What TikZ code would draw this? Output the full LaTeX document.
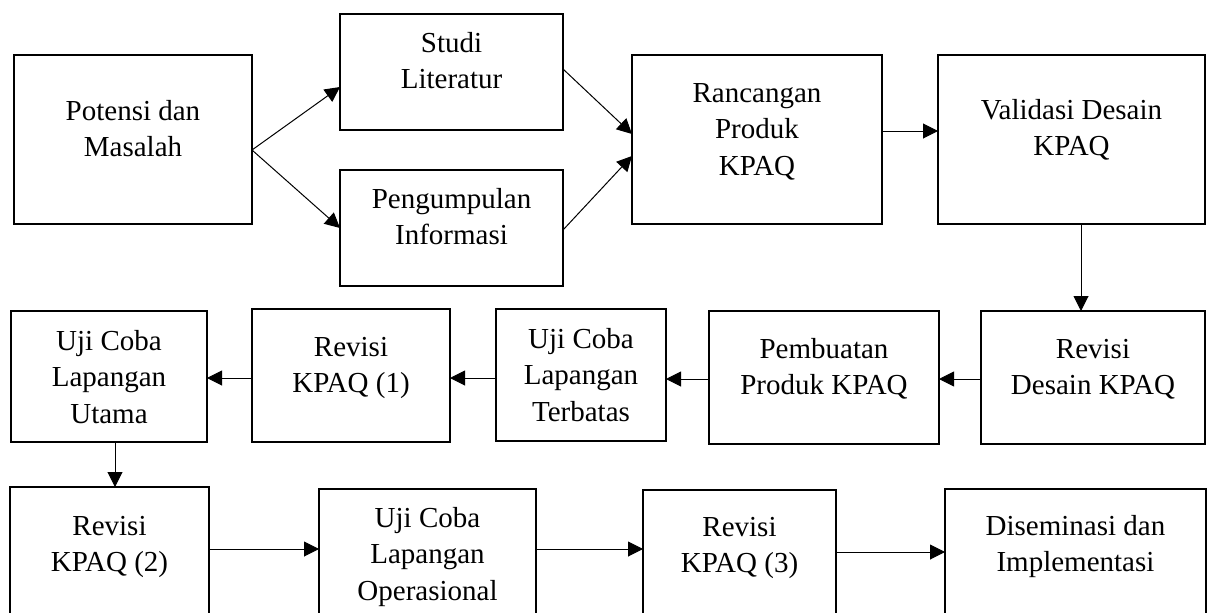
\documentclass[tikz,border=0pt]{standalone}
\usepackage{fontspec}
\setmainfont{Liberation Serif}
\usetikzlibrary{arrows.meta}
\tikzset{
  flowbox/.style={draw=black, line width=2.6pt, inner sep=0pt, outer sep=0pt, rectangle,
    font=\fontsize{29pt}{36.5pt}\selectfont},
  arr/.style={line width=1pt, -{Triangle[length=15pt,width=15pt]}}
}
% #1 name, #2 x, #3 y (top-left), #4 width, #5 height, #6 first baseline offset, #7 text
\newcommand\flowbox[7]{%
  \node[flowbox, anchor=north west, minimum width=#4pt, minimum height=#5pt] (#1) at (#2,#3)
  {\parbox[c][#5pt][t]{#4pt}{\centering\vspace*{\dimexpr#6pt-25pt\relax}\rule{0pt}{25pt}#7}};}
\begin{document}
\begin{tikzpicture}[x=1pt, y=-1pt]
\useasboundingbox (0,0) rectangle (1208,613);
\fill[white] (0,0) rectangle (1208,613);
\clip (0,0) rectangle (1208,613);
% row 1
\flowbox{A}{14}{55}{238}{169}{65}{Potensi dan\\Masalah}
\flowbox{B}{340}{14}{223}{116}{38}{Studi\\Literatur}
\flowbox{C}{340}{170}{223}{116}{38}{Pengumpulan\\Informasi}
\flowbox{D}{632}{55}{250}{169}{47}{Rancangan\\Produk\\KPAQ}
\flowbox{E}{938}{55}{267}{169}{64}{Validasi Desain\\KPAQ}
% row 2
\flowbox{F}{981}{311}{224}{133}{47}{Revisi\\Desain KPAQ}
\flowbox{G}{709}{311}{230}{133}{47}{Pembuatan\\Produk KPAQ}
\flowbox{H}{496}{309}{170}{132}{39}{Uji Coba\\Lapangan\\Terbatas}
\flowbox{I}{252}{309}{198}{133}{47}{Revisi\\KPAQ (1)}
\flowbox{J}{11}{311}{196}{131}{39}{Uji Coba\\Lapangan\\Utama}
% row 3
\flowbox{K}{10}{487}{199}{160}{48}{Revisi\\KPAQ (2)}
\flowbox{L}{319}{489}{217}{160}{38}{Uji Coba\\Lapangan\\Operasional}
\flowbox{M}{643}{490}{193}{160}{46}{Revisi\\KPAQ (3)}
\flowbox{N}{945}{489}{261}{160}{46}{Diseminasi dan\\Implementasi}
% connectors
\draw[arr] ([yshift=-95pt]A.north east) -- ([yshift=-73pt]B.north west);
\draw[arr] ([yshift=-95pt]A.north east) -- ([yshift=-58pt]C.north west);
\draw[arr] ([yshift=-55pt]B.north east) -- ([yshift=-79pt]D.north west);
\draw[arr] ([yshift=-60pt]C.north east) -- ([yshift=-101pt]D.north west);
\draw[arr] ([yshift=-76pt]D.north east) -- ([yshift=-76pt]E.north west);
\draw[arr] ([xshift=143pt]E.south west) -- ([xshift=100pt]F.north west);
\draw[arr] ([yshift=-68pt]F.north west) -- ([yshift=-68pt]G.north east);
\draw[arr] ([yshift=-68pt]G.north west) -- ([yshift=-70pt]H.north east);
\draw[arr] ([yshift=-69pt]H.north west) -- ([yshift=-69pt]I.north east);
\draw[arr] ([yshift=-69pt]I.north west) -- ([yshift=-67pt]J.north east);
\draw[arr] ([xshift=104pt]J.south west) -- ([xshift=105pt]K.north west);
\draw[arr] ([yshift=-62pt]K.north east) -- ([yshift=-60pt]L.north west);
\draw[arr] ([yshift=-60pt]L.north east) -- ([yshift=-59pt]M.north west);
\draw[arr] ([yshift=-62pt]M.north east) -- ([yshift=-63pt]N.north west);
\end{tikzpicture}
\end{document}
